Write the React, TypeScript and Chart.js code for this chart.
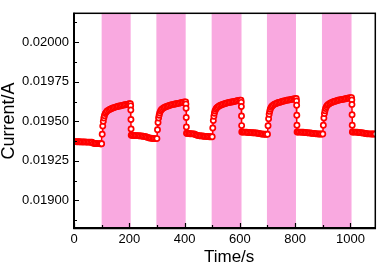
import React, { useEffect, useRef } from 'react';
import { Chart, registerables } from 'chart.js';
Chart.register(...registerables);

// Light-on intervals (s)
const bandStart = [100, 298, 498, 698, 897];
const bandEnd = [205, 404, 606, 803, 1004];

// Axis ticks
const xMajorTicks = [0, 200, 400, 600, 800, 1000];
const xMinorTicks = [100, 300, 500, 700, 900];
const yMajorTicks = [0.019, 0.01925, 0.0195, 0.01975, 0.02];
const yMinorTicks = [0.018875, 0.019125, 0.019375, 0.019625, 0.019875, 0.020125];

// Measured current [time s, current A]
const baseline0: [number, number][] = [
  [0, 0.019372], [5, 0.019372], [10, 0.019371], [15, 0.019371], [20, 0.019371], [25, 0.01937], [30, 0.01937],
  [35, 0.01937], [40, 0.01937], [45, 0.019369], [50, 0.019369], [55, 0.019369], [60, 0.019368], [65, 0.019368],
  [70, 0.019362], [75, 0.01936], [80, 0.01936], [85, 0.019359], [90, 0.019359], [95, 0.019358], [98, 0.019358],
];
const cycle1: [number, number][] = [
  [100, 0.019358], [102, 0.019419], [104, 0.01947], [106, 0.0195], [108, 0.019521], [110, 0.019536], [113, 0.019549],
  [116, 0.019557], [120, 0.019565], [125, 0.019571], [130, 0.019576], [135, 0.01958], [140, 0.019584], [145, 0.019587],
  [150, 0.01959], [155, 0.019593], [160, 0.019595], [165, 0.019597], [170, 0.019599], [175, 0.019601], [180, 0.019603],
  [185, 0.019605], [190, 0.019607], [195, 0.019609], [200, 0.019611], [204, 0.019612],
  [205, 0.019598], [205.5, 0.019572], [206, 0.019512], [206.5, 0.019452],
  [207, 0.019412], [210, 0.019412], [215, 0.019411], [220, 0.019411], [225, 0.01941], [230, 0.01941], [235, 0.019409],
  [240, 0.019408], [245, 0.019407], [250, 0.019406], [255, 0.019405], [260, 0.019403], [265, 0.0194], [270, 0.019396],
  [275, 0.019394], [280, 0.019393], [285, 0.019392], [290, 0.019391], [295, 0.019391],
];
const cycle2: [number, number][] = [
  [300, 0.019391], [302, 0.019447], [304, 0.019493], [306, 0.019521], [308, 0.019539], [310, 0.019553], [313, 0.019565],
  [316, 0.019573], [320, 0.01958], [325, 0.019586], [330, 0.019591], [335, 0.019594], [340, 0.019597], [345, 0.0196],
  [350, 0.019603], [355, 0.019606], [360, 0.019607], [365, 0.01961], [370, 0.019611], [375, 0.019613], [380, 0.019615],
  [385, 0.019617], [390, 0.019619], [395, 0.019621], [400, 0.019622], [404, 0.019623],
  [405, 0.019609], [405.5, 0.019583], [406, 0.019524], [406.5, 0.019465],
  [407, 0.019425], [410, 0.019424], [415, 0.019423], [420, 0.019422], [425, 0.019422], [430, 0.019421], [435, 0.01942],
  [440, 0.019416], [445, 0.019412], [450, 0.01941], [455, 0.019409], [460, 0.019408], [465, 0.019407], [470, 0.019406],
  [475, 0.019405], [480, 0.019404], [485, 0.019404], [490, 0.019403], [495, 0.019403],
];
const cycle3: [number, number][] = [
  [500, 0.019403], [502, 0.019458], [504, 0.019505], [506, 0.019532], [508, 0.019551], [510, 0.019565], [513, 0.019576],
  [516, 0.019584], [520, 0.019591], [525, 0.019597], [530, 0.019602], [535, 0.019605], [540, 0.019609], [545, 0.019611],
  [550, 0.019614], [555, 0.019617], [560, 0.019619], [565, 0.019621], [570, 0.019622], [575, 0.019624], [580, 0.019626],
  [585, 0.019628], [590, 0.01963], [595, 0.019632], [600, 0.019633], [604, 0.019634],
  [605, 0.01962], [605.5, 0.019594], [606, 0.019534], [606.5, 0.019473],
  [607, 0.019433], [610, 0.019433], [615, 0.019432], [620, 0.019432], [625, 0.019431], [630, 0.01943], [635, 0.01943],
  [640, 0.019429], [645, 0.019428], [650, 0.019428], [655, 0.019427], [660, 0.019426], [665, 0.019425], [670, 0.019423],
  [675, 0.019421], [680, 0.01942], [685, 0.019419], [690, 0.019418], [695, 0.019418],
];
const cycle4: [number, number][] = [
  [700, 0.019418], [702, 0.019472], [704, 0.019517], [706, 0.019545], [708, 0.019563], [710, 0.019576], [713, 0.019588],
  [716, 0.019595], [720, 0.019602], [725, 0.019608], [730, 0.019612], [735, 0.019616], [740, 0.019619], [745, 0.019621],
  [750, 0.019624], [755, 0.019627], [760, 0.019629], [765, 0.019631], [770, 0.019633], [775, 0.019635], [780, 0.019636],
  [785, 0.019638], [790, 0.01964], [795, 0.019642], [800, 0.019643], [804, 0.019644],
  [805, 0.019629], [805.5, 0.019602], [806, 0.019539], [806.5, 0.019475],
  [807, 0.019433], [810, 0.019433], [815, 0.019432], [820, 0.019432], [825, 0.019431], [830, 0.019431], [835, 0.01943],
  [840, 0.019429], [845, 0.019428], [850, 0.019427], [855, 0.019426], [860, 0.019425], [865, 0.019424], [870, 0.019423],
  [875, 0.019422], [880, 0.019421], [885, 0.01942], [890, 0.01942], [895, 0.01942],
];
const cycle5: [number, number][] = [
  [900, 0.01942], [902, 0.019475], [904, 0.019521], [906, 0.019549], [908, 0.019567], [910, 0.019581], [913, 0.019593],
  [916, 0.019601], [920, 0.019607], [925, 0.019613], [930, 0.019618], [935, 0.019621], [940, 0.019625], [945, 0.019627],
  [950, 0.01963], [955, 0.019633], [960, 0.019635], [965, 0.019637], [970, 0.019639], [975, 0.01964], [980, 0.019642],
  [985, 0.019644], [990, 0.019646], [995, 0.019648], [1000, 0.019649], [1004, 0.01965],
  [1005, 0.019635], [1005.5, 0.019607], [1006, 0.019542], [1006.5, 0.019476],
  [1007, 0.019433], [1010, 0.019433], [1015, 0.019432], [1020, 0.019432], [1025, 0.019431], [1030, 0.01943], [1035, 0.019429],
  [1040, 0.019428], [1045, 0.019427], [1050, 0.019425], [1055, 0.019423], [1060, 0.019422], [1065, 0.019421], [1070, 0.019421],
  [1075, 0.01942], [1080, 0.01942], [1085, 0.01942], [1090, 0.01942],
];

const FONT = '"Liberation Sans", Arial, sans-serif';

const decor = {
  id: 'decor',
  beforeDatasetsDraw(chart: any) {
    const { ctx, chartArea: a, scales } = chart;
    const x = scales.x;
    ctx.save();
    ctx.fillStyle = '#F9A9E0';
    bandStart.forEach((s, i) => {
      const x0 = x.getPixelForValue(s);
      const x1 = x.getPixelForValue(bandEnd[i]);
      ctx.fillRect(x0, a.top, x1 - x0, a.bottom - a.top);
    });
    ctx.restore();
  },
  afterDraw(chart: any) {
    const { ctx, chartArea: a, scales } = chart;
    const x = scales.x;
    const y = scales.y;
    ctx.save();
    ctx.strokeStyle = '#000';
    // frame
    ctx.lineWidth = 1.5;
    ctx.strokeRect(a.left, a.top + 0.5, a.right - a.left, a.bottom - a.top);
    ctx.lineWidth = 2;
    ctx.beginPath();
    ctx.moveTo(a.left, a.top);
    ctx.lineTo(a.left, a.bottom);
    ctx.lineTo(a.right, a.bottom);
    ctx.stroke();
    // inward ticks
    ctx.lineWidth = 1.2;
    ctx.beginPath();
    xMajorTicks.forEach((v) => {
      const px = Math.round(x.getPixelForValue(v)) + 0.5;
      ctx.moveTo(px, a.bottom);
      ctx.lineTo(px, a.bottom - 5);
    });
    xMinorTicks.forEach((v) => {
      const px = Math.round(x.getPixelForValue(v)) + 0.5;
      ctx.moveTo(px, a.bottom);
      ctx.lineTo(px, a.bottom - 3);
    });
    yMajorTicks.forEach((v) => {
      const py = Math.round(y.getPixelForValue(v)) + 0.5;
      ctx.moveTo(a.left, py);
      ctx.lineTo(a.left + 5, py);
    });
    yMinorTicks.forEach((v) => {
      const py = Math.round(y.getPixelForValue(v)) + 0.5;
      ctx.moveTo(a.left, py);
      ctx.lineTo(a.left + 3, py);
    });
    ctx.stroke();
    // axis titles
    ctx.fillStyle = '#000';
    ctx.textAlign = 'center';
    ctx.textBaseline = 'middle';
    ctx.font = `17px ${FONT}`;
    ctx.fillText('Time/s', (a.left + a.right) / 2 + 4.5, 257);
    ctx.translate(9, 121);
    ctx.rotate(-Math.PI / 2);
    ctx.font = `18px ${FONT}`;
    ctx.fillText('Current/A', 0, 0);
    ctx.restore();
  },
};

export default function App() {
  const ref = useRef<HTMLCanvasElement>(null);
  useEffect(() => {
    document.body.style.margin = '0';
    const all = [...baseline0, ...cycle1, ...cycle2, ...cycle3, ...cycle4, ...cycle5];
    const chart = new Chart(ref.current!, {
      type: 'line',
      data: {
        datasets: [
          {
            data: all.map(([t, v]) => ({ x: t, y: v })),
            borderColor: '#FF0000',
            borderWidth: 1.5,
            pointRadius: 2.6,
            pointBorderWidth: 1.7,
            pointBorderColor: '#FF0000',
            pointBackgroundColor: '#FFFFFF',
            tension: 0,
          },
        ],
      },
      options: {
        responsive: false,
        animation: false,
        layout: { padding: { top: 1, right: 5, left: 0, bottom: 0 } },
        plugins: { legend: { display: false }, tooltip: { enabled: false } },
        scales: {
          x: {
            type: 'linear',
            min: 0,
            max: 1090,
            grid: { display: false, drawTicks: false },
            border: { display: false },
            afterBuildTicks: (s: any) => {
              s.ticks = xMajorTicks.map((v) => ({ value: v }));
            },
            afterFit: (s: any) => {
              s.height = 38;
            },
            ticks: {
              autoSkip: false,
              maxRotation: 0,
              padding: 4,
              color: '#000',
              font: { family: FONT, size: 13 },
              callback: (v: any) => String(v),
            },
          },
          y: {
            type: 'linear',
            min: 0.018826,
            max: 0.020186,
            grid: { display: false, drawTicks: false },
            border: { display: false },
            afterBuildTicks: (s: any) => {
              s.ticks = yMajorTicks.map((v) => ({ value: v }));
            },
            afterFit: (s: any) => {
              s.width = 74;
            },
            ticks: {
              padding: 5,
              color: '#000',
              font: { family: FONT, size: 13 },
              callback: (v: any) => Number(v).toFixed(5),
            },
          },
        },
      },
      plugins: [decor],
    });
    return () => chart.destroy();
  }, []);
  return <canvas ref={ref} width={381} height={266} style={{ display: 'block' }} />;
}
